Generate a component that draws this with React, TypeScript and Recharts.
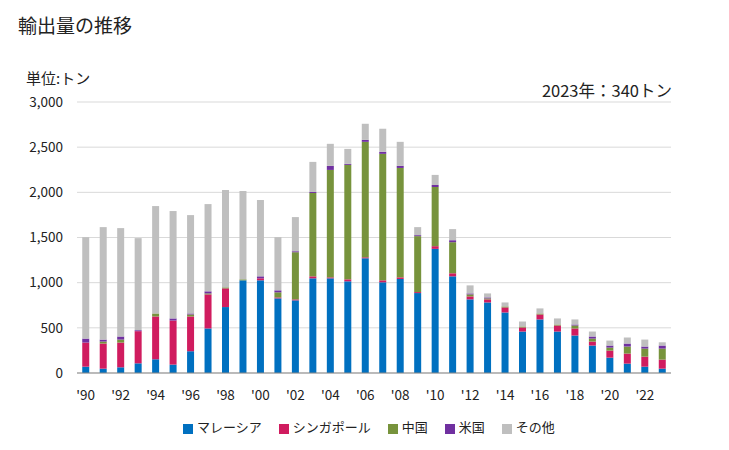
import React from 'react';
import { BarChart, Bar, XAxis, YAxis, CartesianGrid, Legend } from 'recharts';

const years = [
  "'90", "'91", "'92", "'93", "'94", "'95", "'96", "'97", "'98", "'99",
  "'00", "'01", "'02", "'03", "'04", "'05", "'06", "'07", "'08", "'09",
  "'10", "'11", "'12", "'13", "'14", "'15", "'16", "'17", "'18", "'19",
  "'20", "'21", "'22", "'23",
];
const malaysia = [70, 48, 63, 107, 152, 93, 241, 493, 730, 1026, 1026, 826, 804, 1048, 1048, 1015, 1270, 1004, 1041, 885, 1374, 1070, 815, 781, 670, 459, 593, 459, 415, 304, 170, 104, 70, 48];
const singapore = [267, 278, 274, 356, 474, 488, 385, 377, 207, 0, 22, 11, 11, 22, 11, 22, 11, 22, 18, 11, 30, 34, 33, 34, 56, 45, 55, 67, 78, 44, 78, 111, 111, 100];
const china = [0, 22, 33, 0, 33, 0, 22, 11, 11, 11, 0, 56, 522, 923, 1189, 1267, 1278, 1400, 1211, 619, 655, 344, 22, 11, 11, 11, 11, 11, 33, 33, 33, 78, 89, 122];
const usa = [44, 22, 34, 11, 0, 23, 11, 23, 0, 0, 22, 22, 11, 11, 45, 11, 22, 22, 23, 11, 22, 22, 11, 11, 0, 0, 0, 0, 11, 23, 23, 33, 23, 34];
const others = [1123, 1245, 1200, 1019, 1189, 1189, 1089, 966, 1078, 978, 845, 589, 378, 333, 244, 166, 178, 256, 266, 89, 112, 123, 89, 44, 44, 55, 56, 67, 56, 55, 55, 67, 77, 36];
const yTicks = [0, 500, 1000, 1500, 2000, 2500, 3000];
const seriesKeys = ['malaysia', 'singapore', 'china', 'usa', 'others'];
const seriesNames = ['マレーシア', 'シンガポール', '中国', '米国', 'その他'];
const seriesColors = ['#0070C0', '#D01C5F', '#77933C', '#7030A0', '#BFBFBF'];
const seriesValues = [malaysia, singapore, china, usa, others];

const data = years.map((y, i) => {
  const row: Record<string, number | string> = { year: y };
  seriesKeys.forEach((k, j) => {
    row[k] = seriesValues[j][i];
  });
  return row;
});

const font = '"Noto Sans CJK JP", "Noto Sans", sans-serif';

const LegendContent = (props: any) => {
  const payload = [...(props.payload || [])].sort(
    (a: any, b: any) => seriesKeys.indexOf(a.dataKey) - seriesKeys.indexOf(b.dataKey)
  );
  return (
    <div style={{ display: 'flex', justifyContent: 'flex-start', paddingLeft: 183, fontSize: 13, fontFamily: font, color: '#222', lineHeight: '18px' }}>
      {payload.map((p: any) => (
        <div key={p.dataKey} style={{ display: 'flex', alignItems: 'center', marginRight: 17 }}>
          <span style={{ display: 'inline-block', width: 10, height: 10, background: p.color, marginRight: 4, marginTop: 3 }} />
          <span>{p.value}</span>
        </div>
      ))}
    </div>
  );
};

export default function App() {
  return (
    <div style={{ position: 'absolute', left: 0, top: 0, width: 729, height: 450, background: '#fff', fontFamily: font, color: '#222' }}>
      <div style={{ position: 'absolute', left: 18, top: 11, fontSize: 19 }}>輸出量の推移</div>
      <div style={{ position: 'absolute', left: 26, top: 67, fontSize: 15 }}>単位:トン</div>
      <div style={{ position: 'absolute', right: 57, top: 78, fontSize: 16.5 }}>2023年：340トン</div>
      <div style={{ position: 'absolute', left: 0, top: 0 }}>
        <BarChart
          width={729}
          height={450}
          data={data}
          margin={{ top: 102, right: 58, left: 0, bottom: 14 }}
          barCategoryGap="30%"
        >
          <CartesianGrid vertical={false} stroke="#d9d9d9" />
          <XAxis
            dataKey="year"
            interval={1}
            tickLine={false}
            axisLine={{ stroke: '#898989' }}
            tick={{ fontSize: 13.5, fill: '#222', fontFamily: font }}
            height={45}
            tickMargin={11}
          />
          <YAxis
            width={77}
            domain={[0, 3000]}
            ticks={yTicks}
            tickLine={false}
            axisLine={false}
            tickSize={0}
            tickMargin={14}
            tick={{ fontSize: 13.5, fill: '#222', fontFamily: font }}
            tickFormatter={(v: number) => v.toLocaleString('en-US')}
          />
          <Legend
            verticalAlign="bottom"
            content={<LegendContent />}
            wrapperStyle={{ left: 0, width: 729 }}
          />
          {seriesKeys.map((k, j) => (
            <Bar key={k} dataKey={k} name={seriesNames[j]} stackId="a" fill={seriesColors[j]} isAnimationActive={false} />
          ))}
        </BarChart>
      </div>
    </div>
  );
}
